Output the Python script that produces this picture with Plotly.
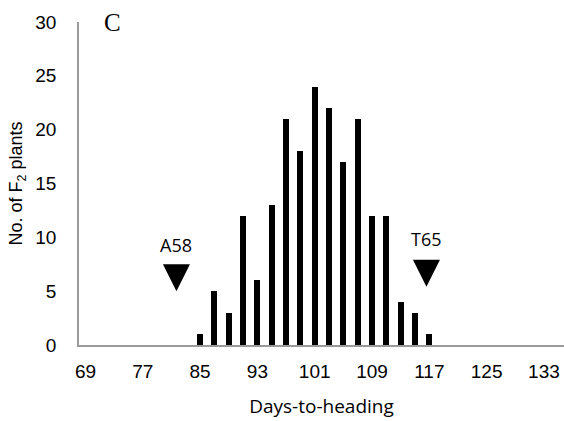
import plotly.graph_objects as go

days = [85, 87, 89, 91, 93, 95, 97, 99, 101, 103, 105, 107, 109, 111, 113, 115, 117]
counts = [1, 5, 3, 12, 6, 13, 21, 18, 24, 22, 17, 21, 12, 12, 4, 3, 1]
tick_vals = [69, 77, 85, 93, 101, 109, 117, 125, 133]
parent_names = ["A58", "T65"]
parent_days = [81.7, 116.6]
parent_marker_y = [5.0, 5.4]
parent_label_y = [9.3, 9.8]

fig = go.Figure()
fig.add_trace(go.Bar(x=days, y=counts, width=0.85, marker=dict(color="black", line=dict(width=0)),
                     showlegend=False))
fig.add_trace(go.Scatter(x=parent_days, y=parent_marker_y, mode="markers",
                         marker=dict(symbol="arrow-down", size=27, color="black", line=dict(width=0)),
                         showlegend=False, cliponaxis=False))
for n, xd, yl in zip(parent_names, parent_days, parent_label_y):
    fig.add_annotation(x=xd, y=yl, text=n, showarrow=False,
                       font=dict(family="Open Sans", size=18, color="black"))

fig.add_annotation(x=0.07, y=1.0, xref="paper", yref="paper", text="C", showarrow=False,
                   xanchor="center", yanchor="middle",
                   font=dict(family="Liberation Serif", size=25, color="black"))

fig.update_layout(
    width=564, height=421,
    margin=dict(l=79, r=0, t=22, b=76),
    plot_bgcolor="white", paper_bgcolor="white",
    bargap=0,
)
fig.update_xaxes(range=[68.1, 135.8], tickvals=tick_vals, showgrid=False, zeroline=False,
                 showline=True, linecolor="#9a9a9a", linewidth=1.5,
                 ticks="outside", ticklen=8, tickcolor="rgba(0,0,0,0)",
                 tickfont=dict(family="Liberation Sans", size=19, color="black"),
                 title=dict(text="Days-to-heading", font=dict(family="Open Sans", size=19, color="black"),
                            standoff=19))
fig.update_yaxes(range=[0, 30], dtick=5, showgrid=False, zeroline=False,
                 showline=True, linecolor="#9a9a9a", linewidth=1.5,
                 ticks="outside", ticklen=17, tickcolor="rgba(0,0,0,0)",
                 tickfont=dict(family="Liberation Sans", size=19, color="black"),
                 title=dict(text="No. of F<sub>2</sub> plants", font=dict(family="Liberation Sans", size=18, color="black"),
                            standoff=8))

fig.write_html("out.html")
